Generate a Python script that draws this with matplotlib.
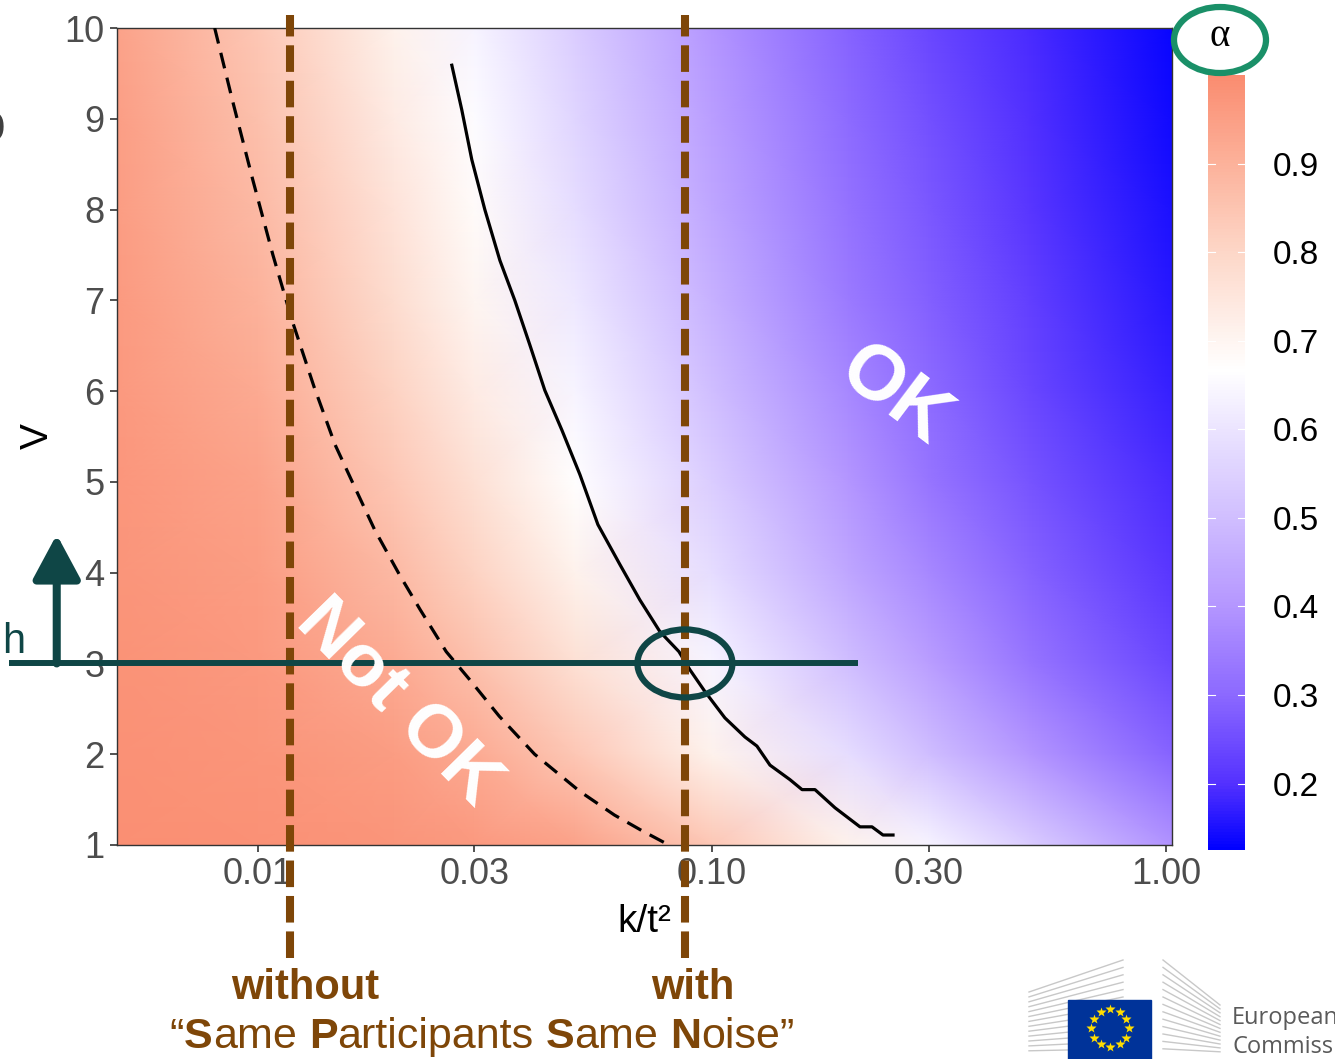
import numpy as np
import matplotlib.pyplot as plt
from matplotlib.colors import LinearSegmentedColormap, Normalize
from matplotlib.patches import Ellipse, Rectangle
from matplotlib.transforms import ScaledTranslation

plt.rcParams['font.family'] = ['Liberation Sans Narrow', 'Liberation Sans', 'DejaVu Sans']

# grid of alpha values: columns follow k/t^2, rows follow V
k_t2 = [0.0049, 0.01, 0.02, 0.03, 0.05, 0.1, 0.2, 0.3, 0.5, 1.03]
v_levels = [1, 2, 3, 4, 5, 6, 7, 8, 9, 10]
alpha_grid = [
    [0.99, 0.985, 0.975, 0.965, 0.94, 0.84, 0.71, 0.64, 0.54, 0.395],
    [0.985, 0.975, 0.955, 0.92, 0.84, 0.71, 0.58, 0.50, 0.40, 0.29],
    [0.98, 0.965, 0.92, 0.86, 0.77, 0.64, 0.50, 0.42, 0.33, 0.24],
    [0.975, 0.955, 0.88, 0.81, 0.71, 0.58, 0.44, 0.37, 0.29, 0.21],
    [0.97, 0.94, 0.84, 0.77, 0.67, 0.54, 0.40, 0.33, 0.265, 0.19],
    [0.965, 0.92, 0.81, 0.73, 0.64, 0.50, 0.37, 0.305, 0.24, 0.175],
    [0.96, 0.90, 0.78, 0.70, 0.61, 0.47, 0.34, 0.285, 0.225, 0.16],
    [0.955, 0.88, 0.76, 0.68, 0.58, 0.44, 0.32, 0.27, 0.21, 0.15],
    [0.95, 0.86, 0.73, 0.66, 0.56, 0.42, 0.305, 0.255, 0.20, 0.14],
    [0.94, 0.84, 0.71, 0.64, 0.54, 0.40, 0.29, 0.24, 0.19, 0.135],
]

# threshold curves
solid_x = [0.02675, 0.02813, 0.0296, 0.03162, 0.03413, 0.03681, 0.03972, 0.04285,
           0.04674, 0.05121, 0.05609, 0.06271, 0.06939, 0.07682, 0.0846, 0.08944,
           0.09652, 0.1068, 0.1182, 0.1256, 0.1342, 0.1485, 0.1579, 0.1686,
           0.1866, 0.2118, 0.2251, 0.238, 0.2504]
solid_v = [9.59, 9.10, 8.55, 8.00, 7.44, 7.00, 6.51, 6.01, 5.57, 5.08, 4.53, 4.09,
           3.70, 3.35, 3.13, 2.93, 2.69, 2.40, 2.19, 2.09, 1.88, 1.72, 1.61, 1.61,
           1.41, 1.20, 1.20, 1.11, 1.11]
dashed_x = [0.00804, 0.0088, 0.00975, 0.0108, 0.0119, 0.0133, 0.0148, 0.0165, 0.0181,
            0.0205, 0.0228, 0.026, 0.0293, 0.034, 0.0407, 0.0512, 0.061, 0.07, 0.079]
dashed_v = [10.0, 9.2, 8.33, 7.5, 6.78, 6.05, 5.41, 4.9, 4.47, 3.98, 3.59, 3.13,
            2.82, 2.42, 2.0, 1.59, 1.33, 1.16, 1.02]

x_ticks = [0.01, 0.03, 0.1, 0.3, 1.0]
x_tick_labels = ['0.01', '0.03', '0.10', '0.30', '1.00']
y_ticks = list(range(1, 11))
cbar_ticks = [0.2, 0.3, 0.4, 0.5, 0.6, 0.7, 0.8, 0.9]

without_cut = 0.0118
with_cut = 0.0872
h_level = 3

# colour scale: blue -> white -> salmon
scale_vals = [0.125, 0.2, 0.3, 0.4, 0.5, 0.6, 0.667, 0.8, 0.9, 1.0]
scale_cols = ['#0000FF', '#5532FF', '#8C69FF', '#B496FF', '#D0BEFF', '#EBE4FF',
              '#FFFFFF', '#FDD7C8', '#FCB29B', '#FA8C70']
vmin, vmax = scale_vals[0], scale_vals[-1]
cmap = LinearSegmentedColormap.from_list(
    'alpha_scale', [((v - vmin) / (vmax - vmin), c) for v, c in zip(scale_vals, scale_cols)])
norm = Normalize(vmin, vmax)

BROWN = '#7E4608'
TEAL = '#0F4646'
GREEN = '#1A9068'
W, H = 1335, 1059

fig = plt.figure(figsize=(W / 100, H / 100), dpi=100)
ax = fig.add_axes([117 / W, 1 - 845 / H, 1055 / W, 817 / H])
cax = fig.add_axes([1208 / W, 1 - 850 / H, 37 / W, 775 / H])

ax.set_xscale('log')
mesh = ax.pcolormesh(k_t2, v_levels, np.array(alpha_grid), shading='gouraud',
                     cmap=cmap, norm=norm, rasterized=True)
ax.plot(solid_x, solid_v, color='black', lw=2.3, zorder=3)
ax.plot(dashed_x, dashed_v, color='black', lw=2.3, dashes=(5, 3), zorder=3)

ax.set_xlim(0.0049, 1.03)
ax.set_ylim(1, 10)
ax.set_xticks(x_ticks)
ax.set_xticklabels(x_tick_labels)
ax.minorticks_off()
ax.set_yticks(y_ticks)
ax.tick_params(labelsize=26, labelcolor='#4D4D4D', color='#333333', length=5, width=1.2)
ax.tick_params(axis='x', pad=4)
ax.tick_params(axis='y', pad=4)
for s in ax.spines.values():
    s.set_color('#333333')
    s.set_linewidth(1.0)
ax.set_xlabel('k/t²', fontsize=28, labelpad=8)
ax.set_ylabel('V', fontsize=28, labelpad=6)

# SPSN cut-offs, running past the panel
for xc in (without_cut, with_cut):
    ax.axvline(xc, ymin=-0.138, ymax=1.016, color=BROWN, lw=5.8, dashes=(3.3, 1.1),
               clip_on=False, zorder=6)

# horizontal h line with the arrow and the ellipse at the crossing
ax.plot([0.00284, 0.21], [h_level, h_level], color=TEAL, lw=4.3, clip_on=False,
        solid_capstyle='butt', zorder=7)
ax.annotate('', xy=(0.00361, 4.42), xytext=(0.00361, h_level), annotation_clip=False,
            arrowprops=dict(arrowstyle='-|>,head_length=2.7,head_width=1.45', lw=5.8,
                            color=TEAL, mutation_scale=10, shrinkA=0, shrinkB=0),
            zorder=7)
ring = Ellipse((0, 0), 0.95, 0.68, fill=False, ec=TEAL, lw=4.5, zorder=8,
               transform=fig.dpi_scale_trans + ScaledTranslation(with_cut, h_level, ax.transData))
ax.add_artist(ring)
ring.set_clip_on(False)

# colour bar
cb = fig.colorbar(mesh, cax=cax, ticks=cbar_ticks)
cb.outline.set_visible(False)
cax.set_yticklabels([f'{t:.1f}' for t in cbar_ticks], family=['Liberation Sans', 'DejaVu Sans'])
cax.tick_params(length=0, pad=20, labelsize=24, labelcolor='black')
for t in cbar_ticks:
    cax.plot([0, 0.2], [t, t], color='white', lw=0.8, transform=cax.get_yaxis_transform())
    cax.plot([0.8, 1], [t, t], color='white', lw=0.8, transform=cax.get_yaxis_transform())

# overlay in pixel units for text and the logo
deco = fig.add_axes([0, 0, 1, 1], zorder=10)
deco.set_xlim(0, W)
deco.set_ylim(H, 0)
deco.axis('off')
deco.patch.set_alpha(0)

deco.text(399, 702, 'Not OK', color='white', fontsize=54, fontweight='bold',
          rotation=-45.6, rotation_mode='anchor', ha='center', va='center',
          family=['Liberation Sans', 'DejaVu Sans'])
deco.text(894, 396, 'OK', color='white', fontsize=56, fontweight='bold',
          rotation=-37, rotation_mode='anchor', ha='center', va='center',
          family=['Liberation Sans', 'DejaVu Sans'])

deco.text(1220, 36, 'α', fontsize=28, ha='center', va='center',
          family=['Liberation Serif', 'DejaVu Serif'])
deco.add_patch(Ellipse((1220, 40), 92, 66, fill=False, ec=GREEN, lw=4.5))

deco.text(14, 642, 'h', color=TEAL, fontsize=30, ha='center', va='center')
deco.text(-10, 128, 'o', color='#404040', fontsize=40, ha='center', va='center')

deco.text(305, 988, 'without', color=BROWN, fontsize=30, fontweight='bold',
          ha='center', va='center')
deco.text(693, 988, 'with', color=BROWN, fontsize=30, fontweight='bold',
          ha='center', va='center')

# caption with bold initials, laid out run by run
runs = [('“', False), ('S', True), ('ame', False), (' ', False), ('P', True),
        ('articipants', False), (' ', False), ('S', True), ('ame', False), (' ', False),
        ('N', True), ('oise”', False)]
renderer = fig.canvas.get_renderer()
cap_kw = dict(color=BROWN, fontsize=31, va='center', ha='left')


def run_width(s, bold):
    if s == ' ':
        a = deco.text(0, 0, 'a a', **cap_kw)
        b = deco.text(0, 0, 'aa', **cap_kw)
        w = a.get_window_extent(renderer).width - b.get_window_extent(renderer).width
        a.remove()
        b.remove()
        return w
    t = deco.text(0, 0, s, fontweight='bold' if bold else 'normal', **cap_kw)
    w = t.get_window_extent(renderer).width
    t.remove()
    return w


widths = [run_width(s, b) for s, b in runs]
x = 482 - sum(widths) / 2
for (s, b), w in zip(runs, widths):
    if s != ' ':
        deco.text(x, 1037, s, fontweight='bold' if b else 'normal', **cap_kw)
    x += w

# European Commission mark
for i in range(13):
    deco.plot([1029, 1123], [992 + 4.9 * i, 960 + 7.4 * i], color='#C8C8C8', lw=1)
    deco.plot([1163, 1220], [960 + 7.4 * i, 1005 + 3.9 * i], color='#C8C8C8', lw=1)
deco.add_patch(Rectangle((1068, 1000), 83, 59, color='#003399', zorder=3))
ang = np.linspace(0, 2 * np.pi, 13)[:-1]
deco.plot(1110 + 19 * np.cos(ang), 1028 + 19 * np.sin(ang), ls='none', marker='*',
          ms=7, color='#FFDD00', mec='none', zorder=4)
deco.text(1232, 1018, 'European', color='#5A5A5A', fontsize=17, va='center',
          family=['Open Sans', 'DejaVu Sans'])
deco.text(1232, 1047, 'Commission', color='#5A5A5A', fontsize=17, va='center',
          family=['Open Sans', 'DejaVu Sans'])

fig.savefig('out.png', dpi=100)
